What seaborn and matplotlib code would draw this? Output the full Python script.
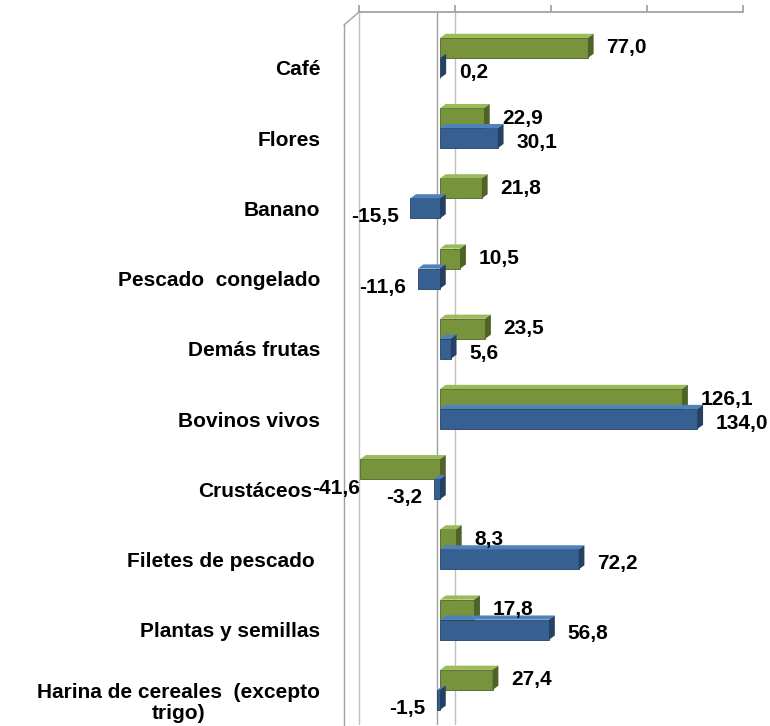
import matplotlib
matplotlib.use("Agg")
import matplotlib.pyplot as plt
import matplotlib.transforms as mtransforms
from matplotlib.patches import Polygon
import seaborn as sns
import pandas as pd

categories = ["Café", "Flores", "Banano", "Pescado  congelado", "Demás frutas",
              "Bovinos vivos", "Crustáceos", "Filetes de pescado ", "Plantas y semillas",
              "Harina de cereales  (excepto\ntrigo)"]
series_names = ["Serie verde", "Serie azul"]
green_values = [77.0, 22.9, 21.8, 10.5, 23.5, 126.1, -41.6, 8.3, 17.8, 27.4]
blue_values = [0.2, 30.1, -15.5, -11.6, 5.6, 134.0, -3.2, 72.2, 56.8, -1.5]
colors = ["#77933C", "#376092"]
top_colors = ["#9BBB59", "#4F81BD"]
side_colors = ["#4F6228", "#254061"]

df = pd.DataFrame({
    "cat": categories * 2,
    "serie": [series_names[0]] * len(categories) + [series_names[1]] * len(categories),
    "val": green_values + blue_values,
})

sns.set_theme(style="white")
plt.rcParams["font.family"] = ["Liberation Sans", "DejaVu Sans"]

fig = plt.figure(figsize=(7.7, 7.26), dpi=100)
ax = fig.add_axes([344 / 770, 1 - 725 / 726, (743 - 344) / 770, (725 - 12) / 726])

sns.barplot(data=df, y="cat", x="val", hue="serie", order=categories,
            hue_order=series_names, palette=colors, orient="h", width=0.57,
            dodge=True, ax=ax, legend=False, saturation=1)

ax.set_xlim(-50, 157.8)
ax.set_ylim(9.5, -0.655)

# pseudo 3D faces derived from each drawn bar
n = len(categories)
dx, dy = 3.0, 0.06
for k, patch in enumerate(list(ax.patches)[:2 * n]):
    j = 0 if k < n else 1
    patch.set_edgecolor(side_colors[j])
    patch.set_linewidth(0.6)
    x0 = patch.get_x()
    w = patch.get_width()
    x1 = x0 + w
    ytop = patch.get_y()
    h = patch.get_height()
    xl, xr = min(x0, x1), max(x0, x1)
    top = Polygon([(xl, ytop), (xl + dx, ytop - dy), (xr + dx, ytop - dy), (xr, ytop)],
                  closed=True, facecolor=top_colors[j], edgecolor="none", zorder=patch.get_zorder())
    side = Polygon([(xr, ytop), (xr + dx, ytop - dy), (xr + dx, ytop + h - dy), (xr, ytop + h)],
                   closed=True, facecolor=side_colors[j], edgecolor="none", zorder=patch.get_zorder())
    ax.add_patch(top)
    ax.add_patch(side)

ax.set_xticks([])
ax.set_xlabel("")
ax.set_ylabel("")
ax.tick_params(axis="y", length=0, pad=17)
for lbl in ax.get_yticklabels():
    lbl.set_fontweight("bold")
    lbl.set_fontsize(15)
    lbl.set_color("black")
    dxp = -8 if lbl.get_text() == "Crustáceos" else 0
    offset = mtransforms.ScaledTranslation(dxp / 100, -10 / 100, fig.dpi_scale_trans)
    lbl.set_transform(lbl.get_transform() + offset)
    if "\n" in lbl.get_text():
        lbl.set_multialignment("center")
        lbl.set_linespacing(1.15)

for s in ["right", "bottom", "top"]:
    ax.spines[s].set_visible(False)
ax.spines["left"].set_color("#A0A0A0")
ax.spines["left"].set_linewidth(1)
ax.spines["left"].set_bounds(9.5, -0.47)
ax.plot([-50, -42.2], [-0.47, -0.655], color="#A0A0A0", lw=1, clip_on=False)

# back wall top axis with ticks
ax2 = ax.twiny()
ax2.set_xlim(-57.8, 150)
ax2.set_xticks([-50, 0, 50, 100, 150])
ax2.tick_params(axis="x", top=True, labeltop=False, length=5, color="#A0A0A0",
                direction="out")
for s in ["right", "bottom", "left"]:
    ax2.spines[s].set_visible(False)
ax2.spines["top"].set_color("#A0A0A0")
ax2.spines["top"].set_bounds(-50, 150)

ax.axvline(-1.5, color="#A0A0A0", lw=1, zorder=0)
ax.axvline(-42.2, color="#C0C0C0", lw=1, zorder=0)
ax.axvline(7.8, color="#C0C0C0", lw=1, zorder=0)

# data labels
for i in range(n):
    for j, vals in enumerate([green_values, blue_values]):
        v = vals[i]
        yc = i + (-0.143 if j == 0 else 0.143)
        txt = f"{v:.1f}".replace(".", ",")
        if v >= 0:
            ax.text(v + 9.5, yc + (0.0 if j == 0 else 0.06), txt, ha="left", va="center",
                    fontsize=15, fontweight="bold", color="black", clip_on=False)
        else:
            ax.text(v - (0.0 if j == 0 else 6.0), yc + (0.28 if j == 0 else 0.12), txt,
                    ha="right", va="center", fontsize=15, fontweight="bold",
                    color="black", clip_on=False)

fig.savefig("out.png", dpi=100)
